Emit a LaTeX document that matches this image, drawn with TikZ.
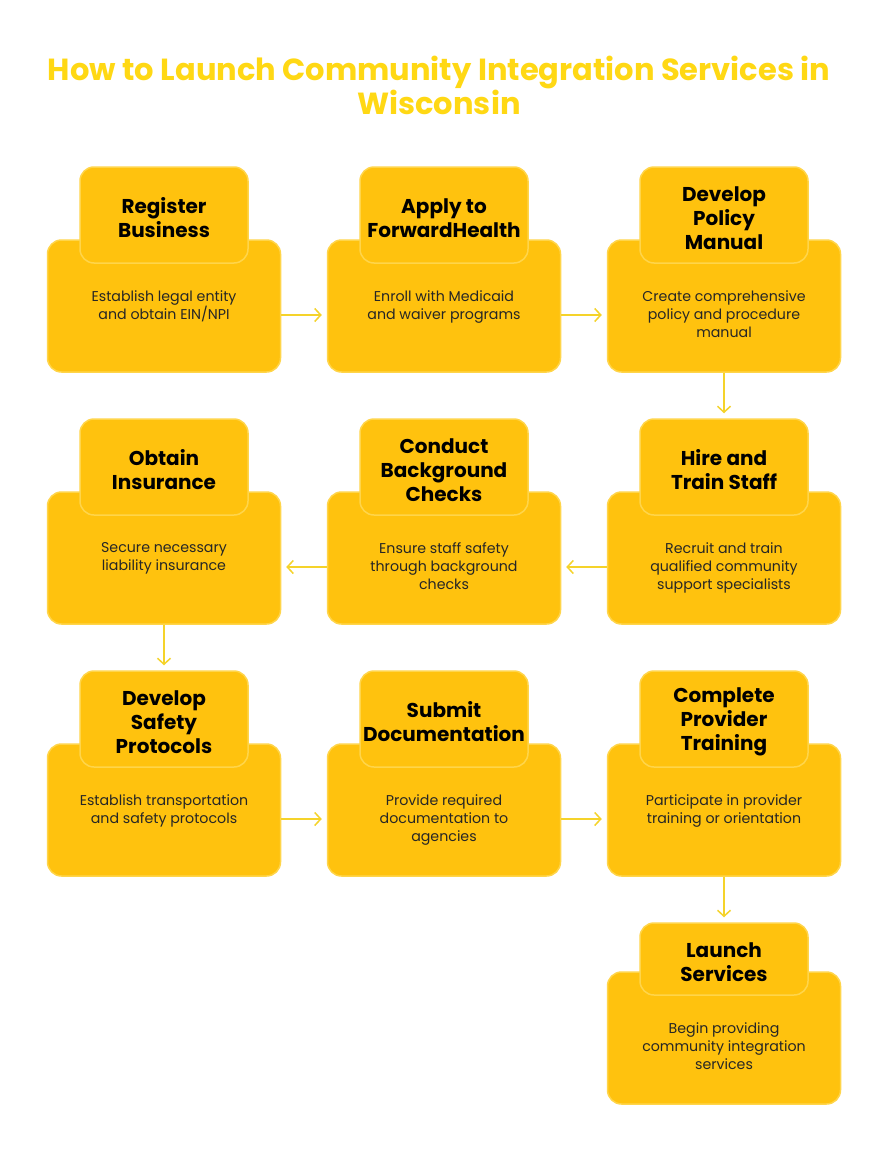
\documentclass[tikz,border=0pt]{standalone}
\usepackage{fontspec}
\setmainfont{Poppins}
\usetikzlibrary{arrows.meta}
\definecolor{boxfill}{HTML}{FFC20E}
\definecolor{boxline}{HTML}{FFD54A}
\definecolor{titlecol}{HTML}{FFD814}
\definecolor{arrowcol}{HTML}{F5D32A}
\begin{document}
\begin{tikzpicture}[x=1pt,y=-1pt,
  bigbox/.style={draw=boxline, line width=1.5pt, fill=boxfill, rounded corners=14pt, minimum width=233pt, minimum height=132pt, inner sep=0pt},
  headbox/.style={draw=boxline, line width=1.5pt, fill=boxfill, rounded corners=14pt, minimum width=168pt, minimum height=96pt, inner sep=0pt},
  headtxt/.style={font=\bfseries\fontsize{20}{24}\selectfont, align=center, inner sep=0pt, text=black},
  bodytxt/.style={font=\fontsize{14.2}{18}\selectfont, align=center, anchor=north, inner sep=0pt, text=black!85},
  flow/.style={draw=arrowcol, line width=1.5pt, -{Straight Barb[length=6pt,width=13pt]}},
  titletxt/.style={font=\bfseries\fontsize{30.5}{34}\selectfont, align=center, text=titlecol, inner sep=0pt}
]
\useasboundingbox (0,0) rectangle (889,1164);
\fill[white] (0,0) rectangle (889,1164);

\node[titletxt] (title) at (439,85) {How to Launch Community Integration Services in\\Wisconsin};

% row 1
\node[bigbox] (b1) at (164,306) {};
\node[headbox] (h1) at (164,215) {};
\node[headtxt] (ht1) at (164,218) {Register\\Business};
\node[bodytxt] (t1) at (164,290.5) {Establish legal entity\\and obtain EIN/NPI};

\node[bigbox] (b2) at (444,306) {};
\node[headbox] (h2) at (444,215) {};
\node[headtxt] (ht2) at (444,218) {Apply to\\ForwardHealth};
\node[bodytxt] (t2) at (444,290.5) {Enroll with Medicaid\\and waiver programs};

\node[bigbox] (b3) at (724,306) {};
\node[headbox] (h3) at (724,215) {};
\node[headtxt] (ht3) at (724,218) {Develop\\Policy\\Manual};
\node[bodytxt] (t3) at (724,290.5) {Create comprehensive\\policy and procedure\\manual};

% row 2
\node[bigbox] (b4) at (724,558) {};
\node[headbox] (h4) at (724,467) {};
\node[headtxt] (ht4) at (724,470) {Hire and\\Train Staff};
\node[bodytxt] (t4) at (724,542.5) {Recruit and train\\qualified community\\support specialists};

\node[bigbox] (b5) at (444,558) {};
\node[headbox] (h5) at (444,467) {};
\node[headtxt] (ht5) at (444,470) {Conduct\\Background\\Checks};
\node[bodytxt] (t5) at (444,542.5) {Ensure staff safety\\through background\\checks};

\node[bigbox] (b6) at (164,558) {};
\node[headbox] (h6) at (164,467) {};
\node[headtxt] (ht6) at (164,470) {Obtain\\Insurance};
\node[bodytxt] (t6) at (164,542.5) {Secure necessary\\liability insurance};

% row 3
\node[bigbox] (b7) at (164,810) {};
\node[headbox] (h7) at (164,719) {};
\node[headtxt] (ht7) at (164,722) {Develop\\Safety\\Protocols};
\node[bodytxt] (t7) at (164,794.5) {Establish transportation\\and safety protocols};

\node[bigbox] (b8) at (444,810) {};
\node[headbox] (h8) at (444,719) {};
\node[headtxt] (ht8) at (444,722) {Submit\\Documentation};
\node[bodytxt] (t8) at (444,794.5) {Provide required\\documentation to\\agencies};

\node[bigbox] (b9) at (724,810) {};
\node[headbox] (h9) at (724,719) {};
\node[headtxt] (ht9) at (724,722) {Complete\\Provider\\Training};
\node[bodytxt] (t9) at (724,794.5) {Participate in provider\\training or orientation};

% row 4
\node[bigbox] (b10) at (724,1038) {};
\node[headbox, minimum height=72pt] (h10) at (724,959) {};
\node[headtxt] (ht10) at (724,962) {Launch\\Services};
\node[bodytxt] (t10) at (724,1022.5) {Begin providing\\community integration\\services};

% connectors
\draw[flow, shorten >=5pt] ([yshift=-9pt]b1.east) -- ([yshift=-9pt]b2.west);
\draw[flow, shorten >=5pt] ([yshift=-9pt]b2.east) -- ([yshift=-9pt]b3.west);
\draw[flow, shorten >=5pt] (b3.south) -- (h4.north);
\draw[flow, shorten >=5pt] ([yshift=-9pt]b4.west) -- ([yshift=-9pt]b5.east);
\draw[flow, shorten >=5pt] ([yshift=-9pt]b5.west) -- ([yshift=-9pt]b6.east);
\draw[flow, shorten >=5pt] (b6.south) -- (h7.north);
\draw[flow, shorten >=5pt] ([yshift=-9pt]b7.east) -- ([yshift=-9pt]b8.west);
\draw[flow, shorten >=5pt] ([yshift=-9pt]b8.east) -- ([yshift=-9pt]b9.west);
\draw[flow, shorten >=5pt] (b9.south) -- (h10.north);
\end{tikzpicture}
\end{document}
